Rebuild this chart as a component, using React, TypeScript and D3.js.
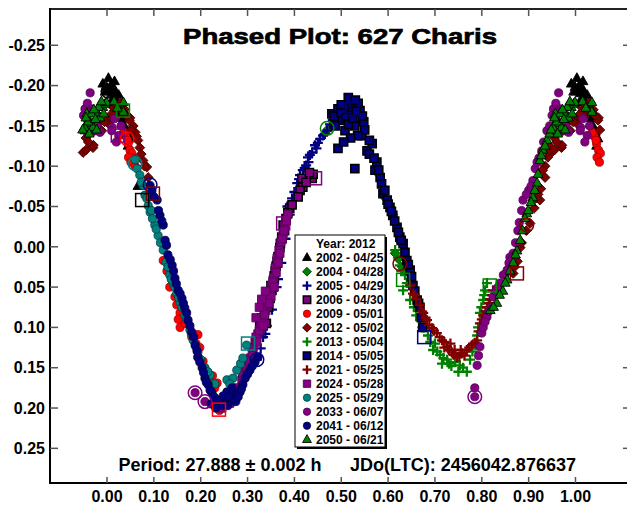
import React from "react";
import * as d3 from "d3";

const sessions = [
  "2002 - 04/25", "2004 - 04/28", "2005 - 04/29", "2006 - 04/30", "2009 - 05/01",
  "2012 - 05/02", "2013 - 05/04", "2014 - 05/05", "2021 - 05/25", "2024 - 05/28",
  "2025 - 05/29", "2033 - 06/07", "2041 - 06/12", "2050 - 06/21",
];
const colors = [
  "#000000", "#008000", "#000080", "#800080", "#ff0000", "#800000", "#008000",
  "#000080", "#800000", "#800080", "#008080", "#800080", "#000080", "#008000",
];
const shapes = [
  "triangle", "diamond", "plus", "square", "circle", "diamond", "plus",
  "square", "plus", "square", "circle", "circle", "circle", "triangle",
];
const outlines = [
  "#000000", "#003800", "#000080", "#000000", "#a00000", "#3a0000", "#008000",
  "#000000", "#800000", "#5a005a", "#004040", "#500050", "#000040", "#000000",
];

type Pt = [number, number];

const s2002: Pt[] = [[0.003,-0.209],[0.008,-0.2],[0.014,-0.197],[0.01,-0.19],[0.018,-0.191],[0.025,-0.188],[0.021,-0.18],[0.029,-0.168],[0.034,-0.159],[0.032,-0.152],[0.037,-0.15],[0.042,-0.142],[0.048,-0.134],[0.991,-0.202],[0.996,-0.192],[0.066,-0.075],[0.012,-0.183],[0.045,-0.125],[0.005,-0.195],[0.016,-0.205],[0.027,-0.175],[0.039,-0.145],[0.999,-0.198]];
const s2004: Pt[] = [[0.472,-0.146],[0.485,-0.152],[0.497,-0.158],[0.58,-0.09],[0.595,-0.06],[0.61,-0.04],[0.62,-0.02],[0.628,-0.005],[0.615,0.008],[0.622,0.015],[0.63,0.025],[0.636,0.03]];
const s2005: Pt[] = [[0.32,0.14],[0.328,0.126],[0.333,0.112],[0.341,0.098],[0.352,0.078],[0.362,0.05],[0.372,0.02],[0.381,-0.01],[0.39,-0.04],[0.395,-0.06],[0.406,-0.079],[0.412,-0.089],[0.418,-0.095],[0.425,-0.101],[0.429,-0.111],[0.438,-0.117],[0.444,-0.126],[0.45,-0.129],[0.455,-0.134],[0.461,-0.138],[0.47,-0.144],[0.476,-0.152],[0.482,-0.157],[0.497,-0.163],[0.523,-0.171],[0.516,-0.168],[0.4,-0.068],[0.41,-0.084],[0.422,-0.098],[0.433,-0.114],[0.447,-0.122],[0.465,-0.14],[0.488,-0.16],[0.505,-0.168],[0.43,-0.105],[0.385,-0.05],[0.365,0.04],[0.338,0.108]];
const s2006: Pt[] = [[0.416,-0.085],[0.438,-0.085],[0.44,-0.09],[0.418,-0.074],[0.412,-0.07],[0.39,-0.048],[0.382,-0.035],[0.376,-0.027],[0.373,-0.012],[0.369,0.001],[0.365,0.012],[0.363,0.018],[0.359,0.03],[0.355,0.042],[0.352,0.054],[0.348,0.064],[0.345,0.075],[0.336,0.082],[0.34,0.095],[0.425,-0.08],[0.432,-0.092],[0.408,-0.062],[0.395,-0.052],[0.386,-0.042],[0.379,-0.02],[0.37,-0.004],[0.361,0.024],[0.357,0.036],[0.35,0.048],[0.343,0.06],[0.33,0.088],[0.326,0.097]];
const s2009: Pt[] = [[0.04,-0.137],[0.045,-0.128],[0.049,-0.12],[0.053,-0.116],[0.056,-0.11],[0.044,-0.132],[0.046,-0.111],[0.036,-0.142],[0.051,-0.105],[0.134,0.05],[0.139,0.041],[0.145,0.062],[0.149,0.072],[0.156,0.082],[0.162,0.091],[0.19,0.12],[0.194,0.109],[0.198,0.125],[0.213,0.155],[0.235,0.169],[0.24,0.203],[0.225,0.16],[0.128,0.03],[0.06,-0.1],[0.12,0.017],[0.152,0.09],[0.156,0.1],[0.167,0.095],[0.181,0.112],[0.194,0.137],[0.205,0.142],[0.218,0.162],[0.23,0.175]];
const s2012: Pt[] = [[0.949,-0.117],[0.97,-0.123],[0.964,-0.142],[0.989,-0.144],[0.006,-0.159],[0.013,-0.173],[0.049,-0.16],[0.056,-0.15],[0.06,-0.142],[0.066,-0.132],[0.07,-0.123],[0.077,-0.107],[0.085,-0.099],[0.088,-0.086],[0.867,0.033],[0.882,0.001],[0.903,-0.029],[0.924,-0.058],[0.926,-0.072],[0.941,-0.111],[0.971,-0.126],[0.973,-0.144],[0.003,-0.153],[0.016,-0.169],[0.031,-0.179],[0.048,-0.157],[0.042,-0.163],[0.025,-0.165],[0.935,-0.1],[0.955,-0.135],[0.98,-0.152],[0.912,-0.048],[0.876,0.018],[0.935,-0.086],[0.08,-0.1],[0.073,-0.115],[0.063,-0.137],[0.052,-0.145],[0.038,-0.17],[0.02,-0.176],[0.01,-0.165],[0.995,-0.155],[0.96,-0.13],[0.945,-0.125],[0.92,-0.065],[0.915,-0.06],[0.895,-0.02],[0.885,-0.005],[0.87,0.025],[0.955,-0.12],[0.94,-0.118],[0.93,-0.095]];
const s2013: Pt[] = [[0.615,0.004],[0.621,0.013],[0.625,0.023],[0.632,0.054],[0.636,0.035],[0.647,0.066],[0.655,0.075],[0.668,0.091],[0.677,0.1],[0.685,0.11],[0.696,0.128],[0.711,0.134],[0.726,0.14],[0.735,0.148],[0.743,0.143],[0.753,0.147],[0.768,0.155],[0.775,0.14],[0.786,0.122],[0.796,0.082],[0.803,0.066],[0.807,0.054],[0.811,0.045],[0.792,0.1],[0.7,0.12],[0.628,0.03],[0.64,0.045],[0.66,0.085],[0.673,0.1],[0.69,0.118],[0.705,0.13],[0.718,0.138],[0.73,0.145],[0.76,0.15],[0.78,0.13],[0.79,0.11],[0.799,0.075],[0.805,0.06],[0.715,0.145],[0.75,0.155]];
const s2014: Pt[] = [[0.48,-0.165],[0.493,-0.171],[0.508,-0.175],[0.523,-0.178],[0.536,-0.178],[0.54,-0.169],[0.519,-0.163],[0.497,-0.157],[0.487,-0.15],[0.508,-0.144],[0.529,-0.15],[0.544,-0.138],[0.555,-0.119],[0.566,-0.128],[0.576,-0.105],[0.583,-0.086],[0.589,-0.066],[0.598,-0.058],[0.604,-0.049],[0.61,-0.039],[0.619,-0.024],[0.625,-0.012],[0.632,-0.004],[0.636,0.007],[0.64,0.017],[0.647,0.029],[0.653,0.048],[0.662,0.066],[0.668,0.075],[0.674,0.1],[0.493,-0.122],[0.529,-0.097],[0.548,-0.155],[0.515,-0.185],[0.56,-0.132],[0.485,-0.162],[0.5,-0.166],[0.51,-0.16],[0.515,-0.152],[0.525,-0.16],[0.532,-0.168],[0.545,-0.162],[0.55,-0.145],[0.535,-0.138],[0.52,-0.135],[0.505,-0.13],[0.56,-0.115],[0.57,-0.11],[0.572,-0.095],[0.58,-0.095],[0.586,-0.078],[0.593,-0.07],[0.6,-0.053],[0.607,-0.044],[0.614,-0.032],[0.622,-0.018],[0.628,-0.008],[0.643,0.022],[0.65,0.037],[0.657,0.055],[0.665,0.07],[0.671,0.088],[0.5,-0.176],[0.53,-0.182]];
const s2021: Pt[] = [[0.647,0.048],[0.653,0.058],[0.66,0.065],[0.668,0.072],[0.675,0.082],[0.683,0.091],[0.694,0.101],[0.704,0.107],[0.715,0.116],[0.726,0.124],[0.736,0.131],[0.747,0.137],[0.758,0.132],[0.768,0.128],[0.779,0.122],[0.79,0.116],[0.796,0.095],[0.803,0.085],[0.811,0.075],[0.818,0.065],[0.824,0.054],[0.72,0.125],[0.742,0.128],[0.657,0.06],[0.672,0.08],[0.68,0.088],[0.688,0.097],[0.698,0.104],[0.71,0.112],[0.72,0.118],[0.73,0.128],[0.74,0.134],[0.752,0.136],[0.763,0.135],[0.773,0.125],[0.785,0.119],[0.793,0.105],[0.8,0.09],[0.808,0.08],[0.815,0.07],[0.822,0.06],[0.733,0.12],[0.755,0.128]];
const s2024: Pt[] = [[0.28,0.175],[0.288,0.165],[0.295,0.155],[0.301,0.147],[0.306,0.138],[0.31,0.132],[0.316,0.118],[0.322,0.108],[0.327,0.1],[0.333,0.09],[0.339,0.079],[0.344,0.068],[0.348,0.058],[0.352,0.048],[0.356,0.038],[0.359,0.026],[0.363,0.014],[0.367,0.004],[0.371,-0.006],[0.376,-0.017],[0.38,-0.027],[0.386,-0.04],[0.245,0.2],[0.255,0.195],[0.262,0.194],[0.29,0.16],[0.298,0.15],[0.304,0.142],[0.312,0.125],[0.318,0.112],[0.325,0.104],[0.33,0.095],[0.336,0.084],[0.342,0.072],[0.35,0.062],[0.354,0.044],[0.361,0.032],[0.365,0.02],[0.369,0.008],[0.374,-0.01],[0.378,-0.02],[0.383,-0.032],[0.32,0.118],[0.334,0.098],[0.346,0.07],[0.357,0.05],[0.325,0.075],[0.33,0.065],[0.318,0.088],[0.338,0.055]];
const s2025: Pt[] = [[0.064,-0.097],[0.07,-0.089],[0.077,-0.076],[0.081,-0.064],[0.088,-0.051],[0.092,-0.043],[0.102,-0.027],[0.109,-0.014],[0.12,0.004],[0.126,0.019],[0.134,0.035],[0.141,0.045],[0.149,0.058],[0.156,0.069],[0.166,0.085],[0.177,0.103],[0.184,0.116],[0.194,0.131],[0.209,0.15],[0.22,0.159],[0.256,0.165],[0.269,0.163],[0.277,0.153],[0.298,0.122],[0.06,-0.108],[0.097,-0.035],[0.073,-0.08],[0.085,-0.06],[0.095,-0.045],[0.105,-0.022],[0.114,-0.005],[0.13,0.025],[0.137,0.04],[0.145,0.05],[0.153,0.063],[0.16,0.075],[0.17,0.09],[0.18,0.108],[0.19,0.124],[0.2,0.14],[0.215,0.155],[0.23,0.17],[0.262,0.17],[0.285,0.145],[0.29,0.138]];
const s2033: Pt[] = [[0.964,-0.191],[0.953,-0.171],[0.957,-0.159],[0.968,-0.171],[0.974,-0.144],[0.985,-0.142],[0.955,-0.144],[0.97,-0.154],[0.011,-0.148],[0.79,0.147],[0.796,0.124],[0.8,0.107],[0.811,0.087],[0.824,0.062],[0.839,0.045],[0.854,0.029],[0.867,0.008],[0.877,-0.02],[0.86,0.013],[0.888,-0.058],[0.909,-0.082],[0.914,-0.097],[0.928,-0.119],[0.939,-0.144],[0.95,-0.163],[0.016,-0.159],[0.025,-0.138],[0.01,-0.144],[0.785,0.175],[0.785,0.186],[0.188,0.181],[0.209,0.192],[0.9,-0.07],[0.846,0.035],[0.82,0.075],[0.793,0.135],[0.803,0.1],[0.807,0.093],[0.815,0.08],[0.83,0.055],[0.835,0.05],[0.85,0.034],[0.858,0.02],[0.865,0.015],[0.872,-0.005],[0.88,-0.03],[0.885,-0.045],[0.895,-0.065],[0.905,-0.075],[0.918,-0.105],[0.922,-0.11],[0.932,-0.13],[0.945,-0.15],[0.958,-0.178],[0.96,-0.167],[0.978,-0.15],[0.02,-0.13],[0.03,-0.15]];
const s2041: Pt[] = [[0.092,-0.076],[0.096,-0.07],[0.107,-0.058],[0.113,-0.039],[0.12,-0.027],[0.124,-0.008],[0.13,0.01],[0.139,0.023],[0.145,0.039],[0.152,0.054],[0.16,0.064],[0.166,0.076],[0.173,0.091],[0.181,0.106],[0.188,0.122],[0.194,0.137],[0.203,0.15],[0.209,0.163],[0.216,0.171],[0.224,0.181],[0.231,0.188],[0.241,0.192],[0.252,0.195],[0.263,0.19],[0.273,0.184],[0.284,0.18],[0.29,0.171],[0.295,0.163],[0.305,0.153],[0.316,0.143],[0.322,0.137],[0.256,0.18],[0.267,0.175],[0.237,0.196],[0.275,0.192],[0.1,-0.062],[0.11,-0.045],[0.117,-0.032],[0.127,-0.002],[0.135,0.016],[0.142,0.03],[0.148,0.046],[0.156,0.058],[0.163,0.07],[0.17,0.082],[0.177,0.098],[0.185,0.112],[0.192,0.129],[0.198,0.143],[0.206,0.156],[0.212,0.168],[0.22,0.178],[0.228,0.186],[0.235,0.191],[0.245,0.197],[0.258,0.197],[0.27,0.188],[0.28,0.186],[0.287,0.176],[0.3,0.158],[0.31,0.148],[0.248,0.185],[0.26,0.186],[0.222,0.195],[0.232,0.2]];
const s2050: Pt[] = [[0.957,-0.165],[0.964,-0.153],[0.979,-0.166],[0.985,-0.16],[0.991,-0.173],[0.996,-0.177],[0.953,-0.144],[0.97,-0.148],[0.034,-0.169],[0.832,0.07],[0.854,0.041],[0.867,0.02],[0.882,-0.008],[0.896,-0.041],[0.909,-0.061],[0.918,-0.079],[0.899,-0.045],[0.924,-0.107],[0.939,-0.132],[0.952,-0.148],[0.967,-0.165],[0.982,-0.173],[0.999,-0.179],[0.035,-0.167],[0.035,-0.179],[0.818,0.079],[0.845,0.055],[0.875,0.005],[0.93,-0.12],[0.945,-0.14],[0.96,-0.155],[0.975,-0.158],[0.015,-0.18],[0.022,-0.172],[0.825,0.075],[0.838,0.06],[0.85,0.045],[0.86,0.03],[0.872,0.01],[0.887,-0.02],[0.892,-0.035],[0.905,-0.055],[0.913,-0.07],[0.92,-0.09],[0.927,-0.113],[0.935,-0.125],[0.948,-0.145],[0.955,-0.16],[0.972,-0.17],[0.988,-0.18],[0.993,-0.165],[0.962,-0.14],[0.978,-0.145]];

const seriesData: Pt[][] = [s2002, s2004, s2005, s2006, s2009, s2012, s2013, s2014, s2021, s2024, s2025, s2033, s2041, s2050];

// open (first-point) markers: [session index, shape, phase, mag]
const openMarks: [number, string, number, number][] = [
  [0, "circle", 0.002, -0.193], [13, "square", 0.034, -0.169], [9, "square", 0.023, -0.138],
  [4, "circle", 0.043, -0.134], [10, "circle", 0.06, -0.103], [12, "circle", 0.092, -0.077],
  [5, "square", 0.098, -0.066], [0, "square", 0.075, -0.058], [11, "circle", 0.188, 0.181],
  [11, "circle", 0.209, 0.192], [4, "square", 0.239, 0.202], [10, "square", 0.301, 0.12],
  [2, "circle", 0.32, 0.14], [9, "square", 0.376, -0.029], [9, "square", 0.444, -0.085],
  [1, "circle", 0.47, -0.147], [2, "square", 0.523, -0.171], [5, "circle", 0.625, 0.021],
  [6, "square", 0.632, 0.041], [7, "square", 0.677, 0.112], [11, "circle", 0.785, 0.186],
  [6, "square", 0.817, 0.048], [5, "square", 0.875, 0.033], [5, "circle", 0.896, -0.027],
];

const xTicks = [0, 0.1, 0.2, 0.3, 0.4, 0.5, 0.6, 0.7, 0.8, 0.9, 1.0];
const yTicks = [-0.25, -0.2, -0.15, -0.1, -0.05, 0, 0.05, 0.1, 0.15, 0.2, 0.25];
const titleText = "Phased Plot: 627 Charis";
const periodText = "Period: 27.888 \u00b1 0.002 h";
const epochText = "JDo(LTC): 2456042.876637";
const legendTitle = "Year: 2012";

const W = 627, H = 506;
const L = 50, R = 629, T = 9, B = 483;
const x = d3.scaleLinear().domain([-0.1217, 1.1142]).range([L, R]);
const y = d3.scaleLinear().domain([-0.295, 0.293]).range([T, B]);
const PMIN = -0.053, PMAX = 1.053;

function wrap(pts: Pt[]): Pt[] {
  const out: Pt[] = [];
  for (const [p, m] of pts) {
    out.push([p, m]);
    if (p + 1 <= PMAX) out.push([p + 1, m]);
    if (p - 1 >= PMIN) out.push([p - 1, m]);
  }
  return out;
}

function Marker({ shape, cx, cy, fill, stroke, k = 1, heavy = false }: any) {
  const t = `translate(${cx},${cy}) scale(${k})`;
  if (shape === "circle") return <circle cx={cx} cy={cy} r={4.1 * k} fill={fill} stroke={stroke} strokeWidth={0.8} />;
  if (shape === "plus")
    return <path transform={t} d="M-5,0H5M0,-5V5" stroke={fill} strokeWidth={2.3 / k} fill="none" />;
  let d = "";
  if (shape === "triangle") d = "M0,-5.6L4.9,3.1L-4.9,3.1Z";
  else if (shape === "diamond") d = "M0,-4.9L4.9,0L0,4.9L-4.9,0Z";
  else d = "M-4.1,-4.1H4.1V4.1H-4.1Z";
  return <path transform={t} d={d} fill={fill} stroke={stroke} strokeWidth={(heavy ? 1.5 : 0.9) / k} />;
}

export default function App() {
  const font = "'Liberation Sans', Arial, sans-serif";
  return (
    <svg width={W} height={H} style={{ position: "absolute", left: 0, top: 0, background: "#fff" }} fontFamily={font}>
      <rect x={0} y={0} width={W} height={H} fill="#fff" />
      {seriesData.map((pts, si) => (
        <g key={si}>
          {wrap(pts).map(([p, m], i) => (
            <Marker key={i} shape={shapes[si]} cx={x(p)} cy={y(m)} fill={colors[si]} stroke={outlines[si]}
              heavy={si === 3 || si === 7} />
          ))}
        </g>
      ))}
      {openMarks.map(([si, sh, p, m], i) =>
        sh === "circle" ? (
          <circle key={i} cx={x(p)} cy={y(m)} r={6.8} fill="none" stroke={colors[si]} strokeWidth={1.5} />
        ) : (
          <rect key={i} x={x(p) - 6.5} y={y(m) - 6.5} width={13} height={13} fill="none" stroke={colors[si]} strokeWidth={1.5} />
        )
      )}
      <line x1={L} x2={W} y1={T} y2={T} stroke="#222" strokeWidth={2} />
      <line x1={L} x2={W} y1={B} y2={B} stroke="#000" strokeWidth={2} />
      <line x1={L} x2={L} y1={T - 1} y2={B + 1} stroke="#000" strokeWidth={2} />
      {yTicks.map((v) => (
        <g key={v}>
          <line x1={L} x2={L + 8} y1={y(v)} y2={y(v)} stroke="#555" strokeWidth={1.5} />
          <line x1={W - 4} x2={W} y1={y(v)} y2={y(v)} stroke="#555" strokeWidth={1.5} />
          <text x={45} y={y(v)} dy="0.36em" textAnchor="end" fontSize={16} fontWeight="bold">
            {d3.format(".2f")(v).replace("\u2212", "-")}
          </text>
        </g>
      ))}
      {xTicks.map((v) => (
        <g key={v}>
          <line x1={x(v)} x2={x(v)} y1={B} y2={B - 6} stroke="#555" strokeWidth={1.5} />
          <line x1={x(v)} x2={x(v)} y1={T} y2={T + 7} stroke="#555" strokeWidth={1.5} />
          <text x={x(v)} y={502} textAnchor="middle" fontSize={16} fontWeight="bold">
            {d3.format(".2f")(v)}
          </text>
        </g>
      ))}
      <text x={183} y={44} fontSize={22.5} fontWeight="bold" stroke="#000" strokeWidth={0.7}
        textLength={314} lengthAdjust="spacingAndGlyphs">{titleText}</text>
      <text x={118.5} y={471} fontSize={17.5} fontWeight="bold" textLength={203} lengthAdjust="spacingAndGlyphs">{periodText}</text>
      <text x={350} y={471} fontSize={17.5} fontWeight="bold" textLength={226} lengthAdjust="spacingAndGlyphs">{epochText}</text>
      <rect x={297} y={237} width={90} height={212} fill="#000" />
      <rect x={295} y={235} width={90} height={212} fill="#fff" stroke="#000" strokeWidth={1} />
      <text x={316} y={248} fontSize={12} fontWeight="bold">{legendTitle}</text>
      {sessions.map((s, i) => (
        <g key={s}>
          <Marker shape={shapes[i]} cx={307} cy={262 + 14 * i - 4.3} fill={colors[i]} stroke={outlines[i]} k={0.9}
            heavy={i === 3 || i === 7} />
          <text x={316} y={262 + 14 * i} fontSize={12} fontWeight="bold">{s}</text>
        </g>
      ))}
    </svg>
  );
}
